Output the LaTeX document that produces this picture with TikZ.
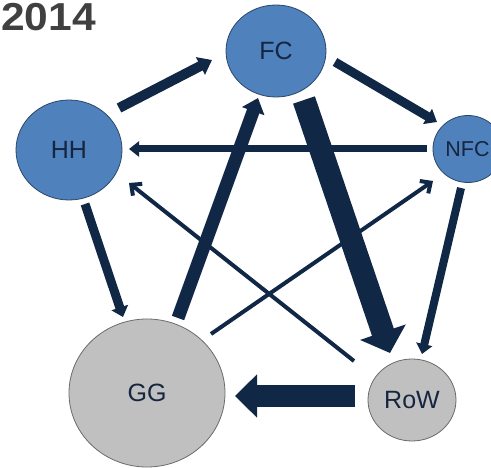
\documentclass[tikz,border=0pt]{standalone}
\usepackage{fontspec}
\setmainfont{Liberation Sans}
\usetikzlibrary{arrows.meta,shapes.geometric}
\definecolor{flowcol}{RGB}{17,39,70}
\definecolor{sectorblue}{RGB}{79,129,189}
\definecolor{sectorgray}{RGB}{192,192,192}
\definecolor{labelcol}{RGB}{22,38,64}
\definecolor{yearcol}{RGB}{64,64,64}
\tikzset{
  sector/.style={ellipse, draw=#1!55!black, line width=0.8pt, fill=#1,
    inner sep=0pt, text=labelcol, font=\fontsize{25}{25}\selectfont},
  flow/.style={draw=flowcol, line cap=butt, line width=#1},
  thinflow/.style={draw=flowcol, line width=4pt,
    -{Straight Barb[length=8pt,width=15pt,line width=4pt]}},
}
\begin{document}
\begin{tikzpicture}[x=1pt,y=-1pt]
\useasboundingbox (0,0) rectangle (491,468);
\clip (0,0) rectangle (491,468);

% year label
\node[anchor=base west, inner sep=0pt, text=yearcol,
  font=\fontsize{39}{39}\selectfont\bfseries] (year) at (1,31) {\scalebox{1.09}[1]{2014}};

% sectors
\node[sector=sectorblue, minimum width=100pt, minimum height=92pt] (FC)  at (276,51)  {FC};
\node[sector=sectorblue, minimum width=106pt, minimum height=100pt] (HH) at (69,150)  {HH};
\node[sector=sectorblue, minimum width=70pt, minimum height=67pt,
  font=\fontsize{21.5}{21.5}\selectfont] (NFC)  at (468,149) {\hspace*{-1pt}NFC};
\node[sector=sectorgray, minimum width=156pt, minimum height=148pt] (GG) at (147,393) {GG};
\node[sector=sectorgray, minimum width=88pt, minimum height=82pt] (RoW)  at (412,400) {RoW};

% thin flows
\draw[thinflow] ([shift={(64,-59)}]GG.center) -- ([shift={(-35,32)}]NFC.center);
\draw[thinflow] ([shift={(-58,-39)}]RoW.center) -- ([shift={(60,33)}]HH.center);

% medium flows
\draw[flow=7pt, -{Triangle[length=10pt,width=15pt]}]
  ([shift={(-41,0)}]NFC.center) -- ([shift={(60,-1)}]HH.center);
\draw[flow=10pt, -{Triangle[length=13pt,width=19pt]}]
  ([shift={(50,-42)}]HH.center) -- ([shift={(-64,9)}]FC.center);
\draw[flow=9pt, -{Triangle[length=11pt,width=17pt]}]
  ([shift={(59,11)}]FC.center) -- ([shift={(-31,-27)}]NFC.center);
\draw[flow=8pt, -{Triangle[length=10pt,width=16pt]}]
  ([shift={(-7,39)}]NFC.center) -- ([shift={(10,-46)}]RoW.center);
\draw[flow=9pt, -{Triangle[length=10pt,width=17pt]}]
  ([shift={(16,54)}]HH.center) -- ([shift={(-24,-76)}]GG.center);
\draw[flow=13pt, -{Triangle[length=14pt,width=23pt]}]
  ([shift={(31,-75)}]GG.center) -- ([shift={(-18,47)}]FC.center);

% heavy flows
\draw[flow=23pt, -{Triangle[length=22pt,width=47pt]}]
  ([shift={(28,49)}]FC.center) -- ([shift={(-22,-47)}]RoW.center);
\draw[flow=22pt, -{Triangle[length=22pt,width=42pt]}]
  ([shift={(-57,-4)}]RoW.center) -- ([shift={(88,3)}]GG.center);
\end{tikzpicture}
\end{document}
